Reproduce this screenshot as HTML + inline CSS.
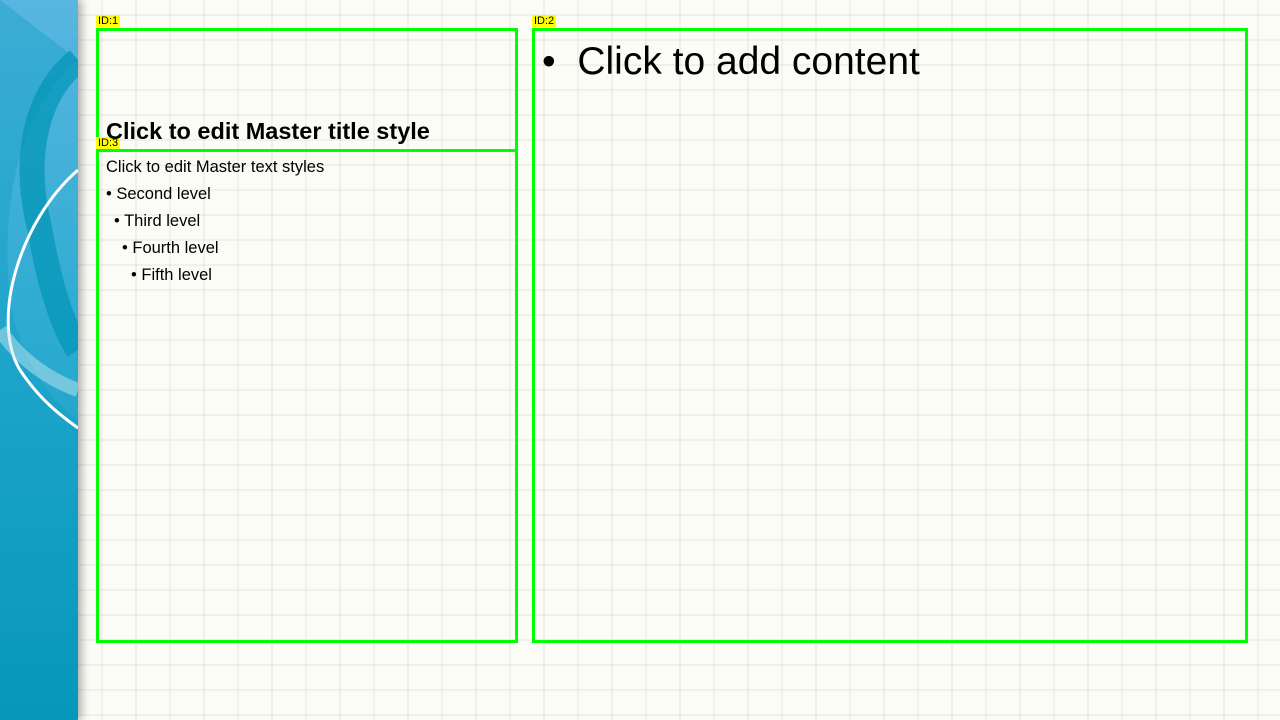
<!DOCTYPE html>
<html><head><style>
body{margin:0;width:1280px;height:720px;overflow:hidden;position:relative;font-family:"Liberation Sans",sans-serif;
background-color:#fcfcf7;
background-image:linear-gradient(to right,rgba(0,0,0,0.045) 2px,transparent 2px),linear-gradient(to bottom,rgba(0,0,0,0.045) 2px,transparent 2px);
background-size:34px 25px;background-position:-1px 14px;}
.side{position:absolute;left:0;top:0;width:78px;height:720px;background:linear-gradient(#58b6e0,#2aaad0 50%,#0596b8);overflow:hidden;box-shadow:4px 0 8px rgba(0,0,0,0.3);}
.box{position:absolute;border:3px solid #00ff00;box-sizing:border-box;}
.lab{position:absolute;background:#ffff00;font-size:11px;line-height:12px;padding:0 2px;color:#000;}
.t{position:absolute;font-family:"Liberation Sans","DejaVu Sans",sans-serif;color:#000;white-space:nowrap;}
</style></head><body>
<div class="side">
<svg width="78" height="720">
<path d="M78 60 C20 110 0 200 10 300 C20 360 50 400 78 420 L78 720 L0 720 L0 0Z" fill="#0a9cc0" opacity="0.35"/>
<path d="M78 60 C40 90 20 150 40 230 C50 290 65 330 78 350" fill="none" stroke="#0094b6" stroke-width="25" opacity="0.7"/>
<path d="M78 170 C20 220 -10 320 20 370 C40 400 60 415 78 428" fill="none" stroke="#fff" stroke-width="3"/>
<path d="M0 330 C20 360 50 380 78 390" fill="none" stroke="#bfe6f0" stroke-width="14" opacity="0.5"/>
</svg>
</div>
<div class="box" style="left:96px;top:28px;width:422px;height:124px"></div>
<div class="box" style="left:96px;top:149px;width:422px;height:494px"></div>
<div class="box" style="left:532px;top:28px;width:716px;height:615px"></div>
<div class="lab" style="left:96px;top:15px">ID:1</div>
<div class="lab" style="left:532px;top:15px">ID:2</div>
<div class="lab" style="left:96px;top:137px">ID:3</div>
<div class="t" style="left:106px;top:118px;font-size:23.5px;font-weight:bold">Click to edit Master title style</div>
<div class="t" style="left:106px;top:158px;font-size:16.5px">Click to edit Master text styles</div>
<div class="t" style="left:106px;top:185px;font-size:16.5px">• Second level</div>
<div class="t" style="left:114px;top:212px;font-size:16.5px">• Third level</div>
<div class="t" style="left:122px;top:239px;font-size:16.5px">• Fourth level</div>
<div class="t" style="left:131px;top:266px;font-size:16.5px">• Fifth level</div>
<div class="t" style="left:542px;top:40px;font-size:39px">•&nbsp;&nbsp;Click to add content</div>
</body></html>
